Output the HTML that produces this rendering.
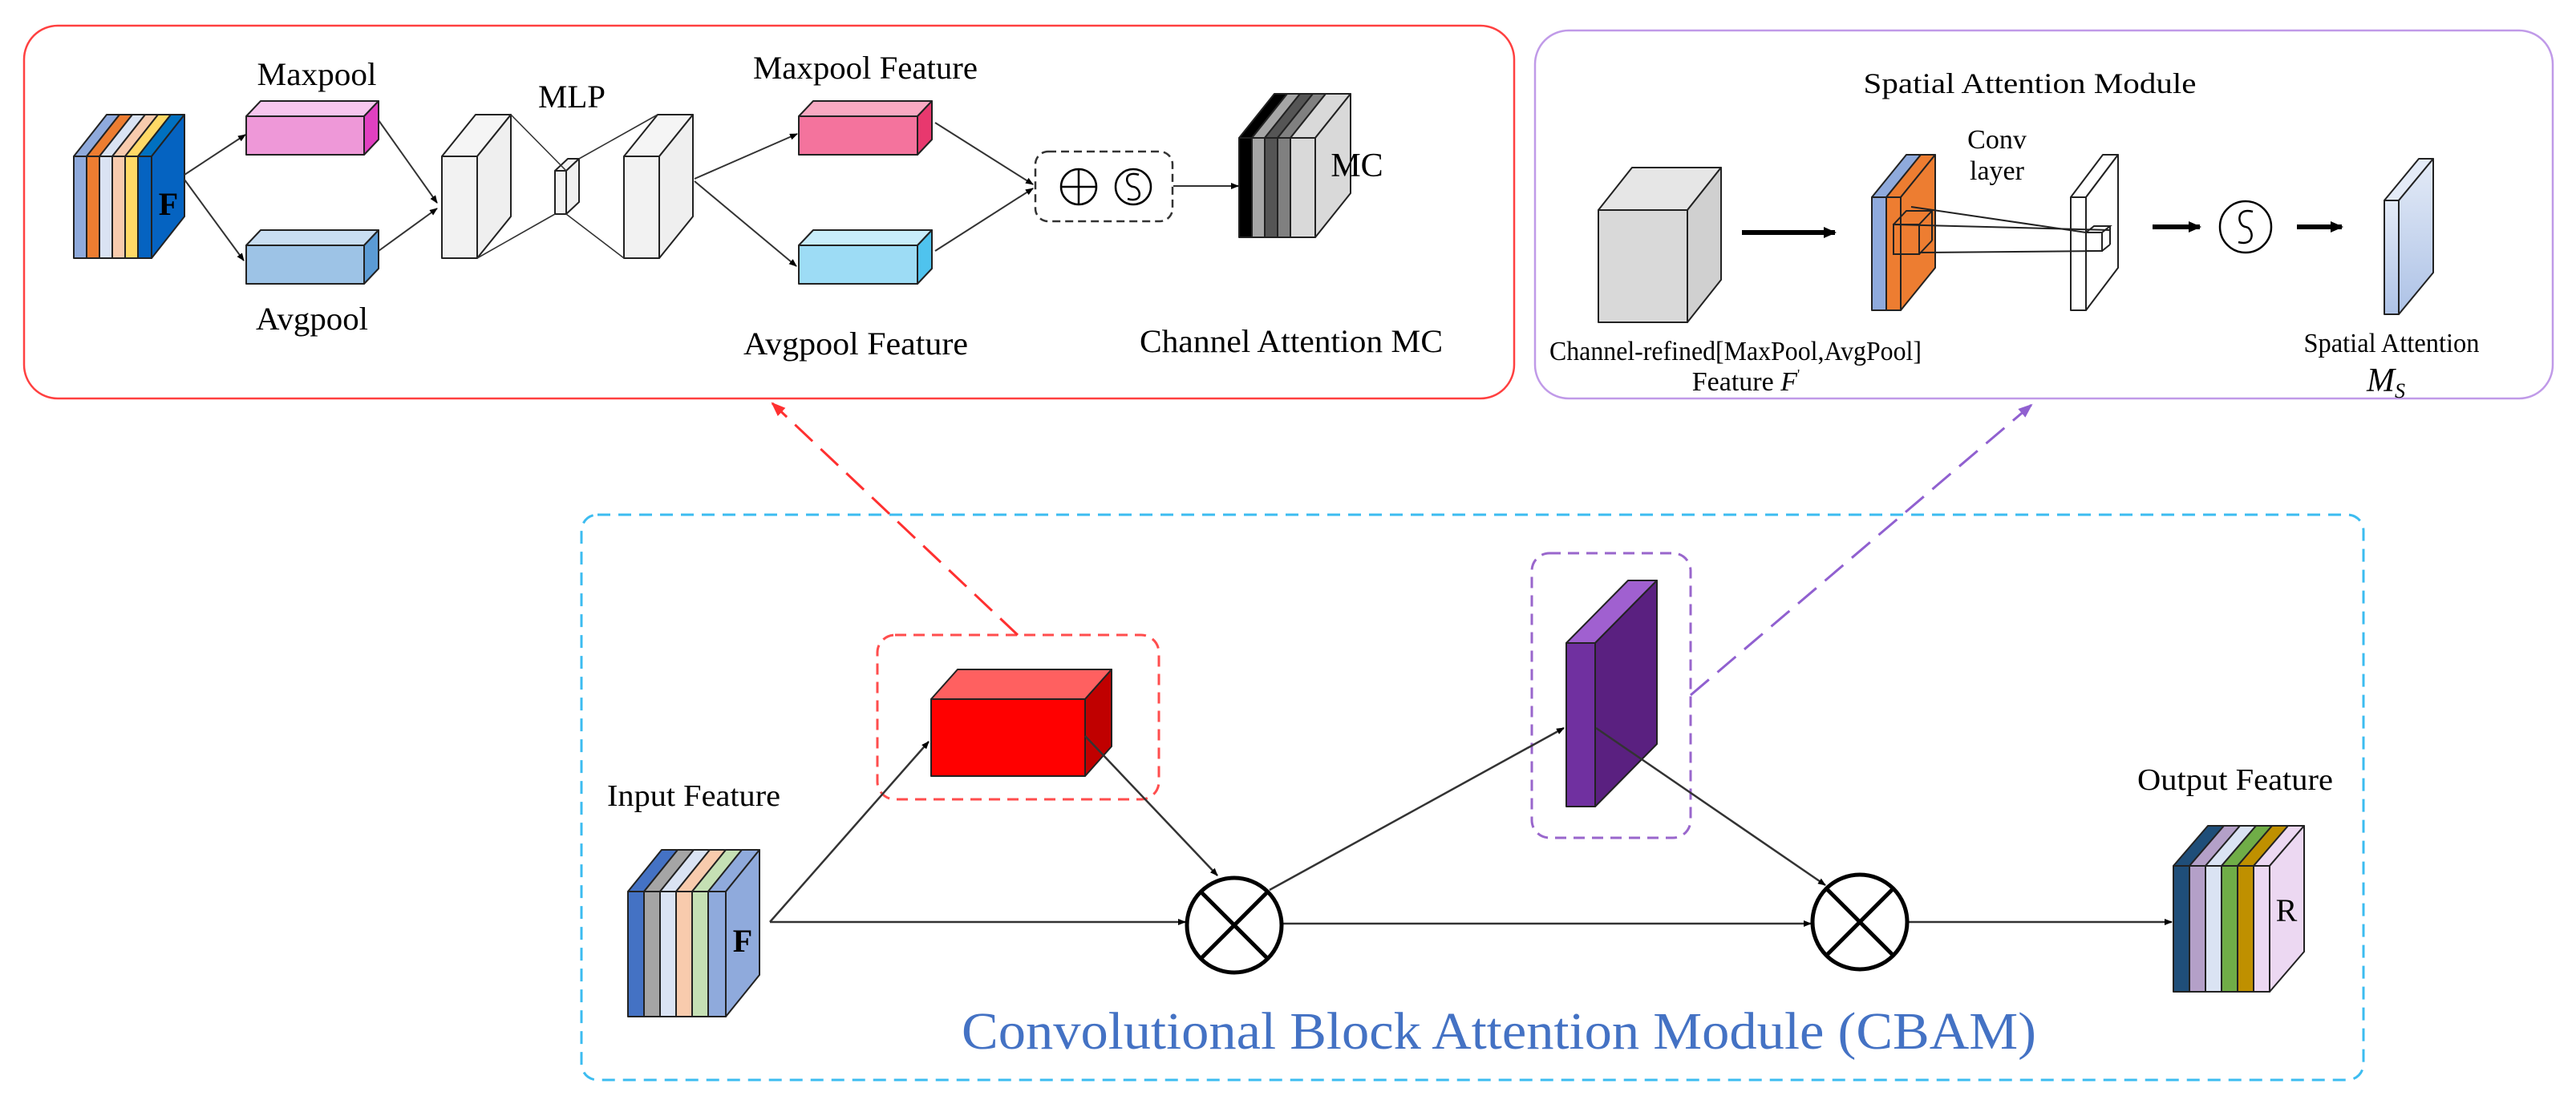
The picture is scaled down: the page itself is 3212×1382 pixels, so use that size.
<!DOCTYPE html>
<html><head><meta charset="utf-8"><style>html,body{margin:0;padding:0;background:#fff}svg{display:block}text{font-family:"Liberation Serif",serif;fill:#000}</style></head>
<body>
<svg width="3212" height="1382" viewBox="0 0 3212 1382" xmlns="http://www.w3.org/2000/svg">
<defs>
<marker id="a" markerWidth="10" markerHeight="8" refX="9" refY="4" orient="auto" markerUnits="userSpaceOnUse" viewBox="0 0 10 8"><path d="M0,0 L10,4 L0,8 Z" fill="#000"/></marker>
<marker id="ab" markerWidth="16" markerHeight="14" refX="14" refY="7" orient="auto" markerUnits="userSpaceOnUse" viewBox="0 0 16 14"><path d="M0,0 L16,7 L0,14 Z" fill="#000"/></marker>
<marker id="ar" markerWidth="18" markerHeight="14" refX="16" refY="7" orient="auto" markerUnits="userSpaceOnUse" viewBox="0 0 18 14"><path d="M0,0 L18,7 L0,14 Z" fill="#ff3030"/></marker>
<marker id="ap" markerWidth="18" markerHeight="14" refX="16" refY="7" orient="auto" markerUnits="userSpaceOnUse" viewBox="0 0 18 14"><path d="M0,0 L18,7 L0,14 Z" fill="#9060d0"/></marker>
<linearGradient id="ms" x1="0" y1="0" x2="0" y2="1"><stop offset="0" stop-color="#e4ebf7"/><stop offset="1" stop-color="#adc2e6"/></linearGradient>
</defs>

<rect x="30" y="32" width="1858" height="465" rx="42" fill="none" stroke="#ff4040" stroke-width="2.5"/>
<rect x="1914" y="38" width="1269" height="459" rx="42" fill="none" stroke="#c09ae8" stroke-width="2.5"/>
<rect x="725" y="642" width="2222" height="705" rx="20" fill="none" stroke="#3cbcf0" stroke-width="3" stroke-dasharray="16,10"/>

<g stroke="#222" stroke-width="2" stroke-linejoin="round">
<polygon points="92,195 133,143 149,143 108,195" fill="#8faadc"/>
<polygon points="108,195 149,143 165,143 124,195" fill="#ed7d31"/>
<polygon points="124,195 165,143 181,143 140,195" fill="#dae3f3"/>
<polygon points="140,195 181,143 197,143 156,195" fill="#f8cbad"/>
<polygon points="156,195 197,143 213,143 172,195" fill="#ffd966"/>
<polygon points="172,195 213,143 230,143 189,195" fill="#0070c0"/>
<rect x="92" y="195" width="16" height="127" fill="#8faadc"/>
<rect x="108" y="195" width="16" height="127" fill="#ed7d31"/>
<rect x="124" y="195" width="16" height="127" fill="#dae3f3"/>
<rect x="140" y="195" width="16" height="127" fill="#f8cbad"/>
<rect x="156" y="195" width="16" height="127" fill="#ffd966"/>
<rect x="172" y="195" width="17" height="127" fill="#0563c1"/>
<polygon points="189,195 230,143 230,270 189,322" fill="#0563c1"/>

<polygon points="307,145 325,126 472,126 454,145" fill="#f7c6ee"/>
<rect x="307" y="145" width="147" height="48" fill="#ee98d8"/>
<polygon points="454,145 472,126 472,174 454,193" fill="#e040c0"/>
<polygon points="307,306 325,287 472,287 454,306" fill="#c9def2"/>
<rect x="307" y="306" width="147" height="48" fill="#9dc3e6"/>
<polygon points="454,306 472,287 472,335 454,354" fill="#5b9bd5"/>

<polygon points="551,195 593,143 637,143 595,195" fill="#f5f5f5"/>
<rect x="551" y="195" width="44" height="127" fill="#f2f2f2"/>
<polygon points="595,195 637,143 637,270 595,322" fill="#efefef"/>
<polygon points="692,213 708,198 722,198 706,213" fill="#f5f5f5"/>
<rect x="692" y="213" width="14" height="54" fill="#f2f2f2"/>
<polygon points="706,213 722,198 722,252 706,267" fill="#efefef"/>
<polygon points="778,195 820,143 864,143 822,195" fill="#f5f5f5"/>
<rect x="778" y="195" width="44" height="127" fill="#f2f2f2"/>
<polygon points="822,195 864,143 864,270 822,322" fill="#efefef"/>
</g>
<g stroke="#333" stroke-width="1.6">
<line x1="637" y1="143" x2="706" y2="213"/>
<line x1="595" y1="322" x2="692" y2="267"/>
<line x1="722" y1="198" x2="820" y2="143"/>
<line x1="706" y1="267" x2="778" y2="322"/>
</g>
<g stroke="#222" stroke-width="2" stroke-linejoin="round">
<polygon points="996,145 1014,126 1162,126 1144,145" fill="#f9a9c2"/>
<rect x="996" y="145" width="148" height="48" fill="#f4739d"/>
<polygon points="1144,145 1162,126 1162,174 1144,193" fill="#e8386e"/>
<polygon points="996,306 1014,287 1162,287 1144,306" fill="#c8edfb"/>
<rect x="996" y="306" width="148" height="48" fill="#9ddcf5"/>
<polygon points="1144,306 1162,287 1162,335 1144,354" fill="#4fc3ee"/>

<polygon points="1545,172 1589,117 1605,117 1561,172" fill="#000"/>
<polygon points="1561,172 1605,117 1621,117 1577,172" fill="#a6a6a6"/>
<polygon points="1577,172 1621,117 1637,117 1593,172" fill="#555"/>
<polygon points="1593,172 1637,117 1653,117 1609,172" fill="#808080"/>
<polygon points="1609,172 1653,117 1684,117 1640,172" fill="#d9d9d9"/>
<rect x="1545" y="172" width="16" height="124" fill="#000"/>
<rect x="1561" y="172" width="16" height="124" fill="#a6a6a6"/>
<rect x="1577" y="172" width="16" height="124" fill="#555"/>
<rect x="1593" y="172" width="16" height="124" fill="#808080"/>
<rect x="1609" y="172" width="31" height="124" fill="#d9d9d9"/>
<polygon points="1640,172 1684,117 1684,241 1640,296" fill="#d9d9d9"/>
</g>
<rect x="1291" y="189" width="171" height="87" rx="16" fill="none" stroke="#333" stroke-width="2.5" stroke-dasharray="10,6"/>
<g fill="none" stroke="#000" stroke-width="2.5">
<circle cx="1345" cy="233" r="22"/><line x1="1323" y1="233" x2="1367" y2="233"/><line x1="1345" y1="211" x2="1345" y2="255"/>
<circle cx="1413" cy="233" r="22"/><path d="M1420,218 C1400,212 1403,232 1413,233 C1423,234 1426,254 1406,248"/>
</g>
<g stroke="#333" stroke-width="2" fill="none" marker-end="url(#a)">
<line x1="230" y1="218" x2="306" y2="168"/>
<line x1="230" y1="224" x2="304" y2="325"/>
<line x1="472" y1="150" x2="545" y2="253"/>
<line x1="472" y1="313" x2="545" y2="260"/>
<line x1="866" y1="223" x2="994" y2="167"/>
<line x1="866" y1="226" x2="993" y2="332"/>
<line x1="1166" y1="153" x2="1288" y2="230"/>
<line x1="1166" y1="313" x2="1288" y2="235"/>
<line x1="1463" y1="232" x2="1544" y2="232"/>
</g>
<text x="395" y="106" font-size="40" text-anchor="middle" textLength="149" lengthAdjust="spacingAndGlyphs">Maxpool</text>
<text x="389" y="411" font-size="40" text-anchor="middle" textLength="140" lengthAdjust="spacingAndGlyphs">Avgpool</text>
<text x="713" y="134" font-size="40" text-anchor="middle" textLength="84" lengthAdjust="spacingAndGlyphs">MLP</text>
<text x="1079" y="98" font-size="40" text-anchor="middle" textLength="280" lengthAdjust="spacingAndGlyphs">Maxpool Feature</text>
<text x="1067" y="442" font-size="40" text-anchor="middle" textLength="280" lengthAdjust="spacingAndGlyphs">Avgpool Feature</text>
<text x="1610" y="439" font-size="40" text-anchor="middle" textLength="378" lengthAdjust="spacingAndGlyphs">Channel Attention MC</text>
<text x="1692" y="220" font-size="42" text-anchor="middle">MC</text>
<text x="210" y="268" font-size="40" text-anchor="middle" font-weight="bold">F</text>

<text x="2531" y="116" font-size="36" text-anchor="middle" textLength="415" lengthAdjust="spacingAndGlyphs">Spatial Attention Module</text>
<g stroke="#222" stroke-width="2" stroke-linejoin="round">
<polygon points="1993,262 2035,209 2146,209 2104,262" fill="#e6e6e6"/>
<rect x="1993" y="262" width="111" height="140" fill="#d9d9d9"/>
<polygon points="2104,262 2146,209 2146,349 2104,402" fill="#d0d0d0"/>
<polygon points="2334,246 2377,193 2395,193 2352,246" fill="#8faadc"/>
<rect x="2334" y="246" width="18" height="141" fill="#8faadc"/>
<polygon points="2352,246 2395,193 2413,193 2370,246" fill="#ed7d31"/>
<rect x="2352" y="246" width="18" height="141" fill="#ed7d31"/>
<polygon points="2370,246 2413,193 2413,334 2370,387" fill="#ed7d31"/>
<polygon points="2582,246 2622,193 2641,193 2601,246" fill="#fff"/>
<rect x="2582" y="246" width="19" height="141" fill="#fff"/>
<polygon points="2601,246 2641,193 2641,334 2601,387" fill="#fff"/>
<polygon points="2973,250 3016,198 3034,198 2991,250" fill="#e4ebf7"/>
<rect x="2973" y="250" width="18" height="142" fill="url(#ms)"/>
<polygon points="2991,250 3034,198 3034,340 2991,392" fill="url(#ms)"/>
</g>
<g stroke="#222" stroke-width="2" fill="none">
<rect x="2361" y="280" width="32" height="37"/>
<polyline points="2361,280 2377,263 2409,263 2393,280"/>
<line x1="2409" y1="263" x2="2409" y2="300"/><line x1="2393" y1="317" x2="2409" y2="300"/>
<rect x="2601" y="290" width="20" height="23" fill="#fff"/>
<polyline points="2601,290 2611,282 2631,282 2621,290"/>
<line x1="2631" y1="282" x2="2631" y2="305"/><line x1="2621" y1="313" x2="2631" y2="305"/>
<line x1="2383" y1="258" x2="2601" y2="290"/>
<line x1="2361" y1="280" x2="2631" y2="287"/>
<line x1="2393" y1="315" x2="2621" y2="313"/>
</g>
<g stroke="#000" stroke-width="6" fill="none" marker-end="url(#ab)">
<line x1="2172" y1="290" x2="2288" y2="290"/>
<line x1="2684" y1="283" x2="2743" y2="283"/>
<line x1="2864" y1="283" x2="2920" y2="283"/>
</g>
<circle cx="2800" cy="283" r="32" fill="none" stroke="#000" stroke-width="2.5"/>
<path d="M2809,264 C2787,258 2790,282 2800,283 C2810,284 2813,308 2791,302" fill="none" stroke="#000" stroke-width="2.5"/>
<text x="2490" y="185" font-size="34" text-anchor="middle">Conv</text>
<text x="2490" y="224" font-size="34" text-anchor="middle">layer</text>
<text x="2164" y="449" font-size="34" text-anchor="middle" textLength="464" lengthAdjust="spacingAndGlyphs">Channel-refined[MaxPool,AvgPool]</text>
<text x="2177" y="487" font-size="34" text-anchor="middle">Feature <tspan font-style="italic">F</tspan><tspan font-size="18" dy="-14">'</tspan></text>
<text x="2982" y="439" font-size="34" text-anchor="middle" textLength="219" lengthAdjust="spacingAndGlyphs">Spatial Attention</text>
<text x="2975" y="488" font-size="42" text-anchor="middle" font-style="italic">M<tspan font-size="26" dy="8">S</tspan></text>

<rect x="1094" y="792" width="351" height="205" rx="22" fill="none" stroke="#ff4d4d" stroke-width="3" stroke-dasharray="14,9"/>
<rect x="1910" y="690" width="198" height="355" rx="22" fill="none" stroke="#9966cc" stroke-width="3" stroke-dasharray="14,9"/>
<line x1="1269" y1="792" x2="963" y2="503" stroke="#ff3030" stroke-width="3" stroke-dasharray="30,14" marker-end="url(#ar)"/>
<line x1="2108" y1="867" x2="2533" y2="505" stroke="#9060d0" stroke-width="3" stroke-dasharray="30,14" marker-end="url(#ap)"/>
<g stroke="#222" stroke-width="2" stroke-linejoin="round">
<polygon points="1161,872 1194,835 1386,835 1353,872" fill="#ff6060"/>
<rect x="1161" y="872" width="192" height="96" fill="#ff0000"/>
<polygon points="1353,872 1386,835 1386,931 1353,968" fill="#c00000"/>
<polygon points="1953,802 2030,724 2066,724 1989,802" fill="#a060d0"/>
<rect x="1953" y="802" width="36" height="204" fill="#7030a0"/>
<polygon points="1989,802 2066,724 2066,928 1989,1006" fill="#5a2080"/>
<polygon points="783,1112 825,1060 845,1060 803,1112" fill="#4472c4"/>
<polygon points="803,1112 845,1060 865,1060 823,1112" fill="#a5a5a5"/>
<polygon points="823,1112 865,1060 885,1060 843,1112" fill="#dae3f3"/>
<polygon points="843,1112 885,1060 905,1060 863,1112" fill="#f8cbad"/>
<polygon points="863,1112 905,1060 925,1060 883,1112" fill="#c5e0b4"/>
<polygon points="883,1112 925,1060 947,1060 905,1112" fill="#8faadc"/>
<rect x="783" y="1112" width="20" height="156" fill="#4472c4"/>
<rect x="803" y="1112" width="20" height="156" fill="#a5a5a5"/>
<rect x="823" y="1112" width="20" height="156" fill="#dae3f3"/>
<rect x="843" y="1112" width="20" height="156" fill="#f8cbad"/>
<rect x="863" y="1112" width="20" height="156" fill="#c5e0b4"/>
<rect x="883" y="1112" width="22" height="156" fill="#8faadc"/>
<polygon points="905,1112 947,1060 947,1216 905,1268" fill="#8faadc"/>
<polygon points="2710,1080 2753,1030 2773,1030 2730,1080" fill="#1f4e79"/>
<polygon points="2730,1080 2773,1030 2793,1030 2750,1080" fill="#b4a0c8"/>
<polygon points="2750,1080 2793,1030 2813,1030 2770,1080" fill="#dae3f3"/>
<polygon points="2770,1080 2813,1030 2833,1030 2790,1080" fill="#70ad47"/>
<polygon points="2790,1080 2833,1030 2853,1030 2810,1080" fill="#bf9000"/>
<polygon points="2810,1080 2853,1030 2873,1030 2830,1080" fill="#ecd8f2"/>
<rect x="2710" y="1080" width="20" height="157" fill="#1f4e79"/>
<rect x="2730" y="1080" width="20" height="157" fill="#b4a0c8"/>
<rect x="2750" y="1080" width="20" height="157" fill="#dae3f3"/>
<rect x="2770" y="1080" width="20" height="157" fill="#70ad47"/>
<rect x="2790" y="1080" width="20" height="157" fill="#bf9000"/>
<rect x="2810" y="1080" width="20" height="157" fill="#ecd8f2"/>
<polygon points="2830,1080 2873,1030 2873,1187 2830,1237" fill="#ecd8f2"/>
</g>
<text x="926" y="1187" font-size="40" text-anchor="middle" font-weight="bold">F</text>
<text x="2851" y="1149" font-size="40" text-anchor="middle">R</text>
<g stroke="#333" stroke-width="2.5" fill="none" marker-end="url(#a)">
<line x1="960" y1="1150" x2="1158" y2="925"/>
<line x1="960" y1="1150" x2="1478" y2="1150"/>
<line x1="1353" y1="918" x2="1518" y2="1092"/>
<line x1="1583" y1="1110" x2="1950" y2="908"/>
<line x1="1990" y1="908" x2="2276" y2="1104"/>
<line x1="1599" y1="1152" x2="2258" y2="1152"/>
<line x1="2379" y1="1150" x2="2708" y2="1150"/>
</g>
<g fill="none" stroke="#000" stroke-width="5">
<circle cx="1539" cy="1154" r="59"/>
<line x1="1497" y1="1112" x2="1581" y2="1196"/><line x1="1581" y1="1112" x2="1497" y2="1196"/>
<circle cx="2319" cy="1150" r="59"/>
<line x1="2277" y1="1108" x2="2361" y2="1192"/><line x1="2361" y1="1108" x2="2277" y2="1192"/>
</g>
<text x="865" y="1005" font-size="38" text-anchor="middle" textLength="216" lengthAdjust="spacingAndGlyphs">Input Feature</text>
<text x="2787" y="985" font-size="38" text-anchor="middle" textLength="244" lengthAdjust="spacingAndGlyphs">Output Feature</text>
<text x="1869" y="1308" font-size="66" text-anchor="middle" style="fill:#4472c4" textLength="1340" lengthAdjust="spacingAndGlyphs">Convolutional Block Attention Module (CBAM)</text>
</svg>
</body></html>
